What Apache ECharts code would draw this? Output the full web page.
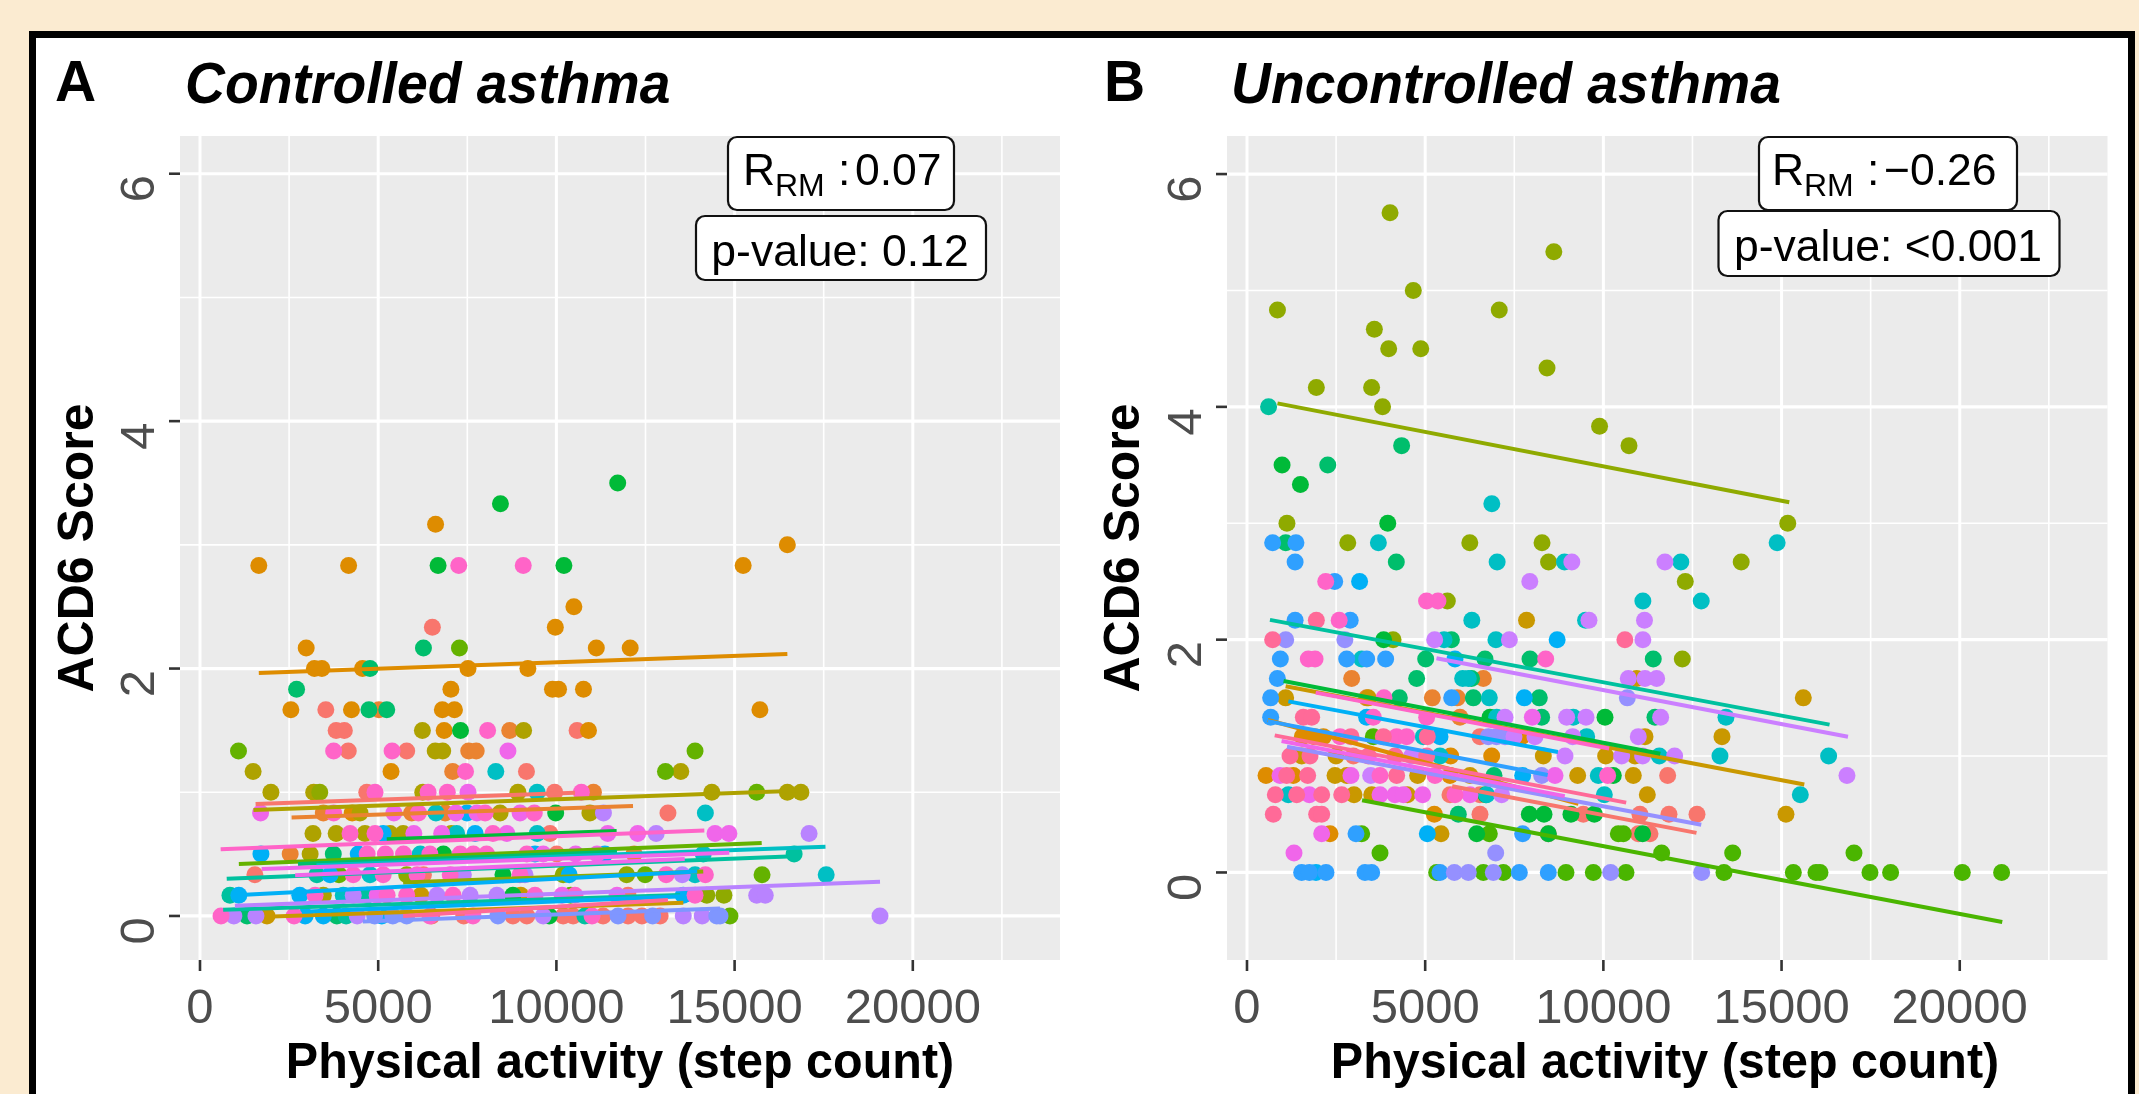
<!DOCTYPE html>
<html><head><meta charset="utf-8">
<style>html,body{margin:0;padding:0;background:#FBEBD1}#c{width:2139px;height:1094px}</style>
<script src="https://cdn.jsdelivr.net/npm/echarts@6/dist/echarts.min.js"></script>
</head><body><div id="c"></div>
<script>
const xTicks=[0,5000,10000,15000,20000];
const yTicks=[0,2,4,6];
const xTitle='Physical activity (step count)';
const yTitle='ACD6 Score';

// Panel A points [steps, ACD6]
const aSalmon=[[3530,1.667],[3820,1.5],[4050,1.5],[4160,1.333],[5800,1.333],[6520,2.333],[9160,1.167],[10580,1.5],[1540,.333],[13130,.833],[9820,.667],[10010,.5],[6270,.333],[12010,.167],[9170,0],[10190,0],[10470,0],[11310,0],[12010,0],[12400,0],[12910,0],[8780,0],[4680,1],[9950,1],[7400,0],[6500,0]];
const aOrange2=[[5020,1.667],[8690,1.5],[7540,1.333],[7750,1.333],[7090,1.167],[11040,1],[3460,.833],[5940,.833],[6880,.833],[2530,.5],[12180,.5]];
const aOrange=[[6610,3.167],[16480,3],[1650,2.833],[4170,2.833],[15240,2.833],[10490,2.5],[9970,2.333],[2980,2.167],[11120,2.167],[12070,2.167],[3210,2],[3420,2],[4560,2],[7520,2],[9200,2],[7040,1.833],[9890,1.833],[10060,1.833],[10760,1.833],[2550,1.667],[4250,1.667],[6800,1.667],[7140,1.667],[15710,1.667],[6850,1.5],[10900,1.5],[5360,1.167],[4270,.833]];
const aGold=[[1880,0],[6200,.167],[9000,.167]];
const aOlive=[[6240,1.5],[9080,1.5],[6600,1.333],[6810,1.333],[1490,1.167],[13490,1.167],[1990,1],[3190,1],[6250,1],[8920,1],[14360,1],[16480,1],[16860,1],[4490,.833],[8420,.833],[10940,.833],[3170,.667],[3820,.667],[4630,.667],[5330,.667],[5700,.667],[7050,.667],[3090,.5],[3460,.167]];
const aOlive2=[[3360,1],[5800,.333],[10190,.333],[11970,.333],[14220,.167],[14700,.167]];
const aGreen3=[[1080,1.333],[7280,2.167],[13890,1.333],[13060,1.167],[15620,1],[12490,.333],[15770,.333],[3900,.333],[14870,0],[10400,.167]];
const aGreen=[[8430,3.333],[11720,3.5],[6680,2.833],[10210,2.833],[7310,1.5],[9980,.833],[6830,.5],[8500,.333],[8780,.167],[9800,0]];
const aGreenB=[[6270,2.167],[4770,2],[2710,1.833],[4740,1.667],[5240,1.667],[3740,.5],[1320,0],[3840,0]];
const aTealGreen=[[840,.167],[3280,.333],[4690,.167],[16670,.5],[4100,0],[10800,0]];
const aTeal=[[8300,1.167],[9460,1],[6620,.833],[14180,.833],[7200,.667],[9460,.667],[6180,.5],[14120,.5],[4770,.333],[17570,.333],[13890,.333],[4020,.167]];
const aSky=[[7490,.833],[5140,.667],[7720,.667],[1710,.5],[4440,.5],[9400,.5],[11360,.5],[3650,.333],[10360,.333],[1090,.167],[2800,.167],[13560,.167],[2950,0],[3460,0],[5100,0]];
const aPeri=[[5410,0],[5800,0],[8360,0],[11730,0],[12700,0],[14500,0],[14590,0],[4900,0]];
const aViolet=[[11320,.833],[12800,.667],[17090,.667],[15620,.167],[15860,.167],[950,0],[1570,0],[4410,0],[9630,0],[13560,0],[14090,0],[19080,0],[4300,.167],[6650,.167],[7580,.167],[8330,.167],[7390,.333],[9120,.333],[13530,.333]];
const aViolet2=[[7520,1],[8640,1.333],[1700,.833],[5440,.833],[7180,.833],[7770,.833],[8980,.833],[6000,.667],[6780,.667],[8610,.667],[11440,.667],[12280,.667],[14450,.667],[14840,.667],[9630,.5],[10540,.5],[11140,.5],[4970,.167],[10160,.167],[11700,.167]];
const aPink=[[3750,1.333],[5390,1.333],[8070,1.5],[7260,2.833],[9070,2.833],[7450,1.167],[4910,1],[6400,1],[6940,1],[10700,1],[3750,.833],[6130,.833],[8000,.833],[9380,.833],[4210,.667],[4910,.667],[8220,.667],[4690,.5],[5200,.5],[5710,.5],[6450,.5],[7300,.5],[7670,.5],[8040,.5],[9170,.5],[4300,.333],[5140,.333],[6090,.333],[7020,.333],[8980,.333],[13080,.333],[14180,.333],[3230,.167],[5250,.167],[5800,.167],[7100,.167],[9400,.167],[10520,.167],[13890,.167],[590,0],[2640,0],[6450,0],[7660,0],[11000,0]];

// Panel A subject regression lines
const aSalmonLine=[[1560,.905],[10520,.997]];
const aSalmonLine2=[[5700,0],[13130,.13]];
const aOrange2Line=[[2570,.795],[12150,.889]];
const aOrangeLine=[[1650,1.964],[16480,2.118]];
const aGoldLine=[[2020,-.005],[13560,.107]];
const aOliveLine=[[1500,.857],[16760,1.013]];
const aOlive2Line=[[5700,.27],[14120,.36]];
const aGreen3Line=[[1090,.42],[15760,.59]];
const aGreenLine=[[5240,.62],[11690,.687]];
const aGreenBLine=[[2750,.42],[11700,.52]];
const aTealGreenLine=[[750,.30],[16490,.48]];
const aTealGreenLine2=[[650,.05],[13470,.17]];
const aTealLine=[[3270,.41],[17550,.56]];
const aSkyLine=[[1120,.17],[13950,.36]];
const aSkyLine2=[[2860,.035],[13560,.16]];
const aPeriLine=[[4570,-.045],[14590,.06]];
const aVioletLine=[[980,.083],[19080,.277]];
const aViolet2Line=[[1730,.38],[14850,.51]];
const aViolet2Line2=[[2670,.33],[13600,.46]];
const aPinkLine=[[580,.54],[14150,.69]];

// Panel B points
const bSalmon=[[2984,1],[6538,.667],[6538,.5],[9437,.5],[11027,.5],[11841,.5],[12627,.5],[10980,.333],[11308,.333],[11804,.833],[6538,1.167],[5696,.667],[8456,.333]];
const bOrange2=[[2937,1.667],[6632,1.667],[3358,1.5],[5200,1.5],[5977,1.333],[5900,1.5]];
const bOrange=[[534,.833],[1300,.833],[1553,1.167],[2142,1.167],[1900,1.167],[6866,1],[5715,1],[5697,.833],[7707,1.167],[5257,.5],[2329,.333]];
const bGold=[[7844,2.167],[1085,1.5],[1534,1],[2498,1],[8315,1],[10064,1],[10887,1],[2470,.833],[2800,.833],[4789,.833],[6258,.833],[9279,.833],[10840,.833],[3003,.667],[3500,.667],[11233,.667],[11168,1.167],[13328,1.167],[15610,1.5],[15124,.5],[5444,.333],[10934,1.667],[3400,1.5],[4500,.667]];
const bOlive=[[1121,3],[15174,3],[4099,2],[5622,2.333],[12299,2.5],[8462,2.667],[13868,2.667],[2828,2.833],[6252,2.833],[8279,2.833],[3804,4],[1946,4.167],[3497,4.167],[8419,4.333],[3976,4.5],[4876,4.5],[3574,4.667],[855,4.833],[7078,4.833],[4666,5],[8610,5.333],[4014,5.667],[10719,3.667],[9893,3.833],[12215,1.833]];
const bGreen3=[[3545,1.167],[5322,0],[6632,0],[7193,0],[8951,0],[9718,0],[10635,0],[13384,0],[15330,0],[15966,0],[16078,0],[17481,0],[18060,0],[20072,0],[21175,0],[3732,.167],[11635,.167],[13628,.167],[17032,.167],[3218,.333],[6800,.333],[10560,.333],[10420,.333]];
const bGreen=[[984,3.5],[1499,3.333],[3950,3],[3835,2],[10046,1.333],[6819,1.333],[7922,.5],[8334,.5],[9090,.5],[9746,.5],[6445,.333],[8456,.333],[11102,.333],[10279,.833],[6700,.667]];
const bGreenB=[[4339,3.667],[2266,3.5],[1087,2.833],[4190,2.667],[5737,2],[5014,1.833],[6678,1.833],[7941,1.833],[11400,1.833],[4761,1.667],[6300,1.667],[4275,1.5],[6351,1.5],[8203,1.5],[8268,1.333],[11448,1.333],[6931,.833],[5930,.5]];
const bTealGreen=[[606,4]];
const bTeal=[[6870,3.167],[3687,2.833],[14876,2.833],[7019,2.667],[8909,2.667],[12173,2.667],[11108,2.333],[12746,2.333],[6309,2.167],[9500,2.167],[5530,2],[3218,1.833],[6052,1.667],[6210,1.667],[6800,1.5],[7006,1.333],[9157,1.333],[13440,1.333],[9531,1.167],[4948,1.167],[11570,1],[13272,1],[16321,1],[5416,1],[1160,.667],[6725,.667],[9858,.833],[10027,.667],[15526,.667],[6985,2]];
const bSky=[[8703,2],[3160,2.5],[5837,1.833],[3358,1.333],[7782,1.5],[5416,1.167],[7735,.833],[1936,0],[5060,.333]];
const bBlue=[[720,2.833],[1373,2.833],[1350,2.667],[2461,2.5],[1350,2.167],[2896,2.167],[936,1.833],[2797,1.833],[3358,1.833],[3891,1.833],[852,1.667],[664,1.5],[5743,1.5],[664,1.333],[3059,.333],[7735,.333],[1534,0],[1750,0],[2217,0],[3311,0],[3498,0],[5416,0],[7642,0],[8455,0]];
const bPeri=[[1087,2],[2747,2],[10672,1.5],[6772,1.167],[7000,1.167],[7240,1.167],[8268,.833],[6978,.167],[5818,0],[6210,0],[6912,0],[10204,0],[12758,0]];
const bViolet=[[9115,2.667],[11727,2.667],[7936,2.5],[9596,2.167],[11154,2.167],[5267,2],[7363,2],[11108,2],[10700,1.667],[11168,1.667],[11495,1.667],[7240,1.333],[8970,1.333],[9513,1.333],[11607,1.333],[7492,1.167],[8081,1.167],[9138,1.167],[10980,1.167],[8923,1],[10513,1],[11102,1],[12000,1],[4621,1],[16835,.833],[3470,.833],[7146,.667]];
const bViolet2=[[8007,1.333],[926,.833],[2918,.833],[8643,.833],[1749,.667],[3732,.667],[4153,.667],[4387,.667],[4929,.667],[6258,.667],[1319,.167],[2096,.333]];
const bPink=[[2587,2.167],[2209,2.5],[5038,2.333],[5359,2.333],[1720,1.833],[1910,1.833],[8381,1.833],[3844,1.5],[3545,1.333],[5042,1.333],[2610,1.167],[4200,1.167],[4480,1.167],[3732,.833],[5275,.833],[10120,.833],[5837,.667]];
const bHot=[[720,2],[10604,2],[1946,2.167],[1581,1.333],[1815,1.333],[2918,1.167],[3826,1.167],[5060,1.167],[1207,1],[1768,1],[3405,1],[4154,1],[5042,1],[1113,.833],[1703,.833],[4200,.833],[795,.667],[1394,.667],[2096,.667],[2657,.667],[739,.5],[1955,.5],[2096,.5]];

// Panel B subject regression lines
const bSalmonLine=[[5757,.74],[12613,.34]];
const bOrangeLine=[[587,1.31],[9300,.59]];
const bGoldLine=[[1084,1.6],[15638,.756]];
const bOliveLine=[[855,4.03],[15217,3.18]];
const bGreen3Line=[[3229,.62],[21192,-.425]];
const bGreenLine=[[1027,1.645],[11598,1.02]];
const bTealGreenLine=[[644,2.17],[16347,1.27]];
const bSkyLine=[[1161,1.47],[8725,1.035]];
const bBlueLine=[[587,1.30],[8438,.838]];
const bPeriLine=[[1123,1.08],[12747,.41]];
const bVioletLine=[[5317,1.84],[16864,1.166]];
const bViolet2Line=[[970,1.13],[8917,.656]];
const bHotLine=[[778,1.178],[10640,.6]];
const bPinkLine=[[1927,1.545],[10161,1.065]];

const C={salmon:'#F8766D',orange2:'#EA8331',orange:'#DE8C00',gold:'#C99800',olive:'#AEA200',olive2:'#8FAA00',green3:'#64B200',green3b:'#4AB500',green:'#00BA38',greenB:'#00BE6C',tealGreen:'#00C19F',teal:'#00BFC4',sky:'#00B0F6',blue:'#2FA0FF',peri:'#9590FF',peri2:'#7F96FF',violet:'#B983FF',violetB:'#CB7FFF',violet2:'#F066EA',pink:'#FF64C8',hot:'#FF6A98'};

const panelA=[
 [C.salmon,aSalmon,[aSalmonLine]],[C.orange2,aOrange2,[aOrange2Line]],[C.orange,aOrange,[aOrangeLine]],[C.gold,aGold,[aGoldLine]],
 [C.olive,aOlive,[aOliveLine]],[C.olive2,aOlive2,[aOlive2Line]],[C.green3,aGreen3,[aGreen3Line]],[C.green,aGreen,[aGreenLine]],
 [C.greenB,aGreenB,[aGreenBLine]],[C.tealGreen,aTealGreen,[aTealGreenLine,aTealGreenLine2]],[C.teal,aTeal,[aTealLine]],[C.sky,aSky,[aSkyLine,aSkyLine2]],
 [C.violet,aViolet,[aVioletLine]],[C.violet2,aViolet2,[aViolet2Line,aViolet2Line2]],[C.peri2,aPeri,[aPeriLine]],[C.pink,aPink,[aPinkLine]],[C.hot,[],[aSalmonLine2]]
];
const panelB=[
 [C.salmon,bSalmon,[bSalmonLine]],[C.orange2,bOrange2,[]],[C.orange,bOrange,[bOrangeLine]],[C.gold,bGold,[bGoldLine]],
 [C.olive2,bOlive,[bOliveLine]],[C.green3b,bGreen3,[bGreen3Line]],[C.green,bGreen,[bGreenLine]],[C.greenB,bGreenB,[]],
 [C.tealGreen,bTealGreen,[bTealGreenLine]],[C.teal,bTeal,[]],[C.sky,bSky,[bSkyLine]],[C.blue,bBlue,[bBlueLine]],
 [C.peri,bPeri,[bPeriLine]],[C.violetB,bViolet,[bVioletLine]],[C.violet2,bViolet2,[bViolet2Line]],[C.pink,bPink,[bPinkLine]],[C.hot,bHot,[bHotLine]]
];

const series=[];
function addPanel(panel,idx){
  panel.forEach(([color,pts,lines])=>{
    if(pts.length) series.push({type:'scatter',xAxisIndex:idx,yAxisIndex:idx,data:pts,symbolSize:17,itemStyle:{color,opacity:1},z:3,silent:true,animation:false,clip:false});
  });
  panel.forEach(([color,pts,lines])=>{
    lines.forEach(l=>series.push({type:'line',xAxisIndex:idx,yAxisIndex:idx,data:l,symbol:'none',lineStyle:{color,width:4,cap:'butt'},z:4,silent:true,animation:false,clip:false}));
  });
}
addPanel(panelA,0);addPanel(panelB,1);

const FONT='"Liberation Sans", Arial, sans-serif';
function xAxis(idx,min,max,name){return {gridIndex:idx,type:'value',min,max,interval:5000,
  axisLine:{show:false},axisTick:{show:false},axisLabel:{show:false},
  splitLine:{show:false},minorSplitLine:{show:false}};}
function yAxis(idx,min,max){return {gridIndex:idx,type:'value',min,max,interval:2,
  axisLine:{show:false},axisTick:{show:false},axisLabel:{show:false},
  splitLine:{show:false},minorSplitLine:{show:false}};}

// grid lines, ticks and tick labels, placed through the axis scales
function gridSeries(idx,xMajor,xMinor,yMajor,yMinor){
  const items=[];
  xMinor.forEach(v=>items.push(['x',v,1.6]));yMinor.forEach(v=>items.push(['y',v,1.6]));
  xMajor.forEach(v=>items.push(['x',v,3]));yMajor.forEach(v=>items.push(['y',v,3.2]));
  return {type:'custom',xAxisIndex:idx,yAxisIndex:idx,z:1,silent:true,animation:false,clip:false,
    encode:{x:1,y:1},data:items.map((d,i)=>[d[0]==='x'?0:1,d[1],d[2]]),
    renderItem(p,api){
      const isX=api.value(0)===0,v=api.value(1),w=api.value(2),g=p.coordSys;
      const c=isX?api.coord([v,0])[0]:api.coord([0,v])[1];
      const isMajor=w>2;const kids=[];
      const shape=isX?{x1:c,y1:g.y,x2:c,y2:g.y+g.height}:{x1:g.x,y1:c,x2:g.x+g.width,y2:c};
      kids.push({type:'line',shape,style:{stroke:'#fff',lineWidth:w}});
      if(isMajor){
        const tick=isX?{x1:c,y1:g.y+g.height,x2:c,y2:g.y+g.height+11}:{x1:g.x-11,y1:c,x2:g.x,y2:c};
        kids.push({type:'line',shape:tick,style:{stroke:'#333',lineWidth:2.6}});
        kids.push(isX?{type:'text',style:{text:String(v),x:c,y:g.y+g.height+49,textAlign:'center',textVerticalAlign:'middle',font:'49px '+FONT,fill:'#4D4D4D'}}
          :{type:'text',x:g.x-40,y:c+15,rotation:Math.PI/2,style:{text:String(v),x:0,y:0,textAlign:'center',textVerticalAlign:'middle',font:'49px '+FONT,fill:'#4D4D4D'}});
      }
      return {type:'group',children:kids};
    }};
}
const xMinorTicks=[2500,7500,12500,17500,22500];
const yMinorTicks=[1,3,5];
series.unshift(gridSeries(1,xTicks,xMinorTicks,yTicks,yMinorTicks));
series.unshift(gridSeries(0,xTicks,xMinorTicks,yTicks,yMinorTicks));

function txt(text,x,y,font,opt){return Object.assign({type:'text',z:60,silent:true,x,y,style:{text,x:0,y:0,font,fill:'#000',textAlign:'center',textVerticalAlign:'middle'}},opt||{});}
function box(x,y,w,h){return {type:'rect',z:55,silent:true,shape:{x,y,width:w,height:h,r:9},style:{fill:'#fff',stroke:'#111',lineWidth:2.2}};}
const boldT='bold 57px '+FONT, bI='italic bold 57px '+FONT, axT='bold 50px '+FONT, lab='44.5px '+FONT, sub='32px '+FONT;
function L(text,x,y,font,opt){const t=txt(text,x,y,font,opt);t.style.textAlign='left';return t;}
const narrow={scaleX:.97};

const graphic=[
 {type:'rect',z:-100,silent:true,shape:{x:32.5,y:34.5,width:2099,height:1200},style:{fill:'#fff',stroke:'#000',lineWidth:7}},
 L('A',55,85,boldT),L('Controlled asthma',185,87,bI,narrow),
 L('B',1104,85,boldT),L('Uncontrolled asthma',1231,87,bI,narrow),
 txt(xTitle,620,1064,axT,narrow),txt(xTitle,1665,1064,axT,narrow),
 txt(yTitle,79,548,axT,{rotation:Math.PI/2}),txt(yTitle,1125,548,axT,{rotation:Math.PI/2}),
 box(728,137,226,73),L('R',743,173,lab),L('RM',775,187,sub),L(':',838,173,lab),L('0.07',855,173,lab),
 box(696,216,290,64),txt('p-value: 0.12',840,254,lab),
 box(1759,137,258,73),L('R',1772,173,lab),L('RM',1804,187,sub),L(':',1867,173,lab),L('\u22120.26',1884,173,lab),
 box(1718.5,211,341,65),txt('p-value: <0.001',1888,249,lab)
];

const chart=echarts.init(document.getElementById('c'),null,{renderer:'canvas'});
chart.setOption({
  backgroundColor:'#FBEBD1',animation:false,
  tooltip:{show:false},legend:{show:false},
  grid:[
    {left:180,top:136,width:880,height:824,show:true,backgroundColor:'#EBEBEB',borderWidth:0,z:0},
    {left:1227,top:136,width:880.5,height:824,show:true,backgroundColor:'#EBEBEB',borderWidth:0,z:0}
  ],
  xAxis:[xAxis(0,-561,24130),xAxis(1,-561,24146)],
  yAxis:[yAxis(0,-.356,6.305),yAxis(1,-.752,6.327)],
  graphic,
  series
});
</script></body></html>
